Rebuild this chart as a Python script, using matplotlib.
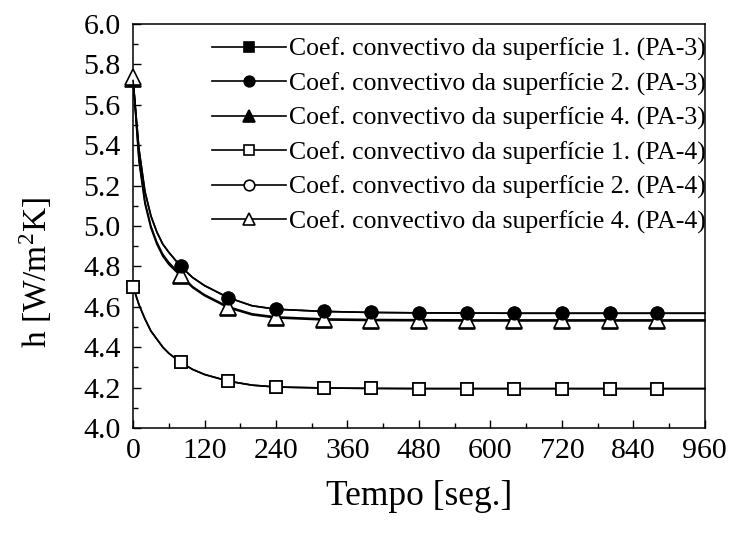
import numpy as np
import matplotlib
matplotlib.use('Agg')
import matplotlib.pyplot as plt
from matplotlib.ticker import MultipleLocator, FormatStrFormatter

plt.rcParams['font.family'] = ['Liberation Serif', 'DejaVu Serif']
plt.rcParams['mathtext.fontset'] = 'stix'

# tempo [s] dos pontos das curvas
t = np.array([0, 10, 20, 30, 40, 50, 60, 80, 100, 120, 160, 200, 240,
              320, 400, 480, 560, 640, 720, 800, 880, 960])

# coeficiente convectivo h [W/m2K]
h_sup1 = [4.70, 4.61, 4.54, 4.48, 4.44, 4.40, 4.37, 4.325, 4.29, 4.265, 4.232,
          4.212, 4.203, 4.198, 4.196, 4.195, 4.195, 4.195, 4.195, 4.195, 4.195, 4.195]
h_sup2 = [5.72, 5.38, 5.17, 5.05, 4.97, 4.91, 4.87, 4.80, 4.745, 4.705, 4.645,
          4.605, 4.588, 4.577, 4.572, 4.570, 4.569, 4.568, 4.568, 4.568, 4.568, 4.568]
h_sup4_pa3 = [5.73, 5.32, 5.11, 4.99, 4.91, 4.85, 4.81, 4.752, 4.695, 4.655, 4.595,
              4.56, 4.545, 4.535, 4.532, 4.531, 4.530, 4.530, 4.530, 4.530, 4.530, 4.530]
h_sup4_pa4 = [5.74, 5.33, 5.12, 5.00, 4.92, 4.86, 4.82, 4.758, 4.70, 4.66, 4.60,
              4.565, 4.55, 4.54, 4.537, 4.536, 4.535, 4.535, 4.535, 4.535, 4.535, 4.535]

legendas = [
    'Coef. convectivo da superfície 1. (PA-3)',
    'Coef. convectivo da superfície 2. (PA-3)',
    'Coef. convectivo da superfície 4. (PA-3)',
    'Coef. convectivo da superfície 1. (PA-4)',
    'Coef. convectivo da superfície 2. (PA-4)',
    'Coef. convectivo da superfície 4. (PA-4)',
]

# marcadores a cada 80 s
marcas = (t % 80 == 0) & (t <= 880)
marcas_sem_zero = marcas & (t > 0)

fig = plt.figure(figsize=(7.35, 5.33), dpi=100)
ax = fig.add_axes([0.181, 0.197, 0.778, 0.758])

series = [
    (h_sup1, 's', 'black', legendas[0], 2, marcas),
    (h_sup2, 'o', 'black', legendas[1], 6, marcas_sem_zero),
    (h_sup4_pa3, '^', 'black', legendas[2], 3, marcas),
    (h_sup1, 's', 'white', legendas[3], 4, marcas),
    (h_sup2, 'o', 'white', legendas[4], 1, marcas_sem_zero),
    (h_sup4_pa4, '^', 'white', legendas[5], 5, marcas),
]
for valores, mk, face, rotulo, z, me in series:
    ms = 11 if mk == '^' else 9
    ax.plot(t, valores, color='black', lw=1.2, marker=mk, ms=ms,
            mfc=face, mec='black', mew=1.2, markevery=list(me),
            label=rotulo, zorder=z, clip_on=False)

ax.set_xlim(0, 960)
ax.set_ylim(4.0, 6.0)
ax.xaxis.set_major_locator(MultipleLocator(120))
ax.xaxis.set_minor_locator(MultipleLocator(60))
ax.yaxis.set_major_locator(MultipleLocator(0.2))
ax.yaxis.set_minor_locator(MultipleLocator(0.1))
ax.yaxis.set_major_formatter(FormatStrFormatter('%.1f'))
ax.tick_params(which='both', direction='in', top=False, right=False)
ax.tick_params(which='major', length=6, width=1, labelsize=21.5)
ax.tick_params(axis='y', which='major', pad=9)
ax.tick_params(axis='x', which='major', pad=7)
ax.tick_params(which='minor', length=3.5, width=1)
for s in ax.spines.values():
    s.set_linewidth(1.1)

ax.set_xlabel('Tempo [seg.]', fontsize=25.5, labelpad=12)
ax.set_ylabel(r'h [W/m$^\mathregular{2}$K]', fontsize=24)
ax.yaxis.set_label_coords(-0.138, 0.386)

ax.legend(loc='upper right', bbox_to_anchor=(1.008, 0.975), frameon=False,
          fontsize=18.5, handlelength=2.9, handletextpad=0.1, labelspacing=0.43,
          borderaxespad=0.0, borderpad=0.15, markerscale=0.85)

fig.savefig('out.png', dpi=100)
